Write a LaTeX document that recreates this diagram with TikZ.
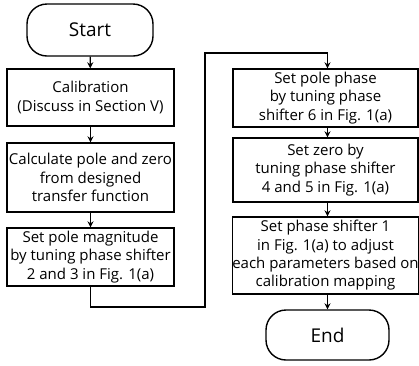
\documentclass[tikz,border=0pt]{standalone}
\usepackage{fontspec}
\setmainfont{Open Sans}
\usetikzlibrary{arrows.meta}
\begin{document}
\begin{tikzpicture}[x=1pt,y=-1pt,
  box/.style={draw,line width=1.4pt,align=center,inner sep=0pt,font=\fontsize{15}{18.3}\selectfont},
  term/.style={draw,line width=1.4pt,rounded corners=20pt,inner sep=0pt,font=\fontsize{19}{22}\selectfont},
  arr/.style={line width=1.4pt,-{Stealth[length=6pt,width=6pt]}},
  ln/.style={line width=1.4pt}]
\useasboundingbox (0,0) rectangle (419,365);
\node[term,minimum width=126pt,minimum height=52pt] (start) at (90,30) {Start};
\node[box,minimum width=167pt,minimum height=57pt] (cal) at (90.5,97.5) {Calibration\\(Discuss in Section V)};
\node[box,minimum width=167pt,minimum height=69pt] (calc) at (90.5,177.5) {Calculate pole and zero\\from designed\\transfer function};
\node[box,minimum width=167pt,minimum height=58pt] (pm) at (90.5,257) {Set pole magnitude\\by tuning phase shifter\\2 and 3 in Fig. 1(a)};
\node[box,minimum width=185pt,minimum height=58pt] (r1) at (325.5,98) {Set pole phase\\by tuning phase\\shifter 6 in Fig. 1(a)};
\node[box,minimum width=185pt,minimum height=64pt] (r2) at (325.5,170) {Set zero by\\tuning phase shifter\\4 and 5 in Fig. 1(a)};
\node[box,minimum width=185pt,minimum height=77pt] (r3) at (325.5,255.5) {Set phase shifter 1\\in Fig. 1(a) to adjust\\each parameters based on\\calibration mapping};
\node[term,minimum width=123pt,minimum height=50pt] (end) at (327.5,335) {End};
\coordinate (c1) at (205,307);
\coordinate (c2) at (205,53);
\draw[arr] (start) -- (cal);
\draw[arr] (cal) -- (calc);
\draw[arr] (calc) -- (pm);
\draw[arr] (pm.south) |- (c1) -- (c2) -| (r1.north -| end.north);
\draw[arr] (r1.south -| end.north) -- (r2.north -| end.north);
\draw[arr] (r2.south -| end.north) -- (r3.north -| end.north);
\draw[arr] (r3.south -| end.north) -- (end.north);
\end{tikzpicture}
\end{document}
